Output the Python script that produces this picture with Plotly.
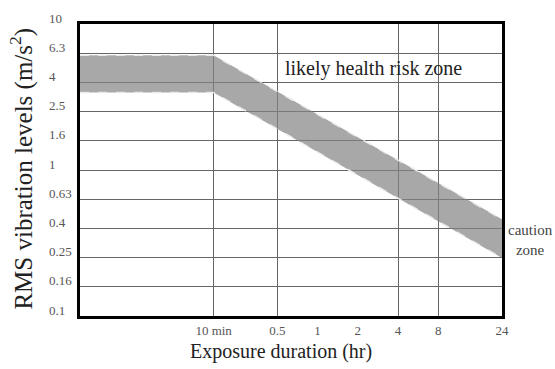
import plotly.graph_objects as go
import math

# ---- data ----
band_hours = [1/60, 1/6, 24]          # flat from left edge to 10 min, then declining to 24 hr
band_upper = [6.1, 6.1, 0.46]         # m/s^2
band_lower = [3.4, 3.4, 0.25]         # m/s^2

x_tick_vals = [1/6, 0.5, 1, 2, 4, 8, 24]
x_tick_text = ["10 min", "0.5", "1", "2", "4", "8", "24"]
x_grid_vals = [1/6, 0.5, 4, 8]

y_tick_vals = [0.1, 0.16, 0.25, 0.4, 0.63, 1, 1.6, 2.5, 4, 6.3, 10]
y_tick_text = ["0.1", "0.16", "0.25", "0.4", "0.63", "1", "1.6", "2.5", "4", "6.3", "10"]
y_grid_vals = [0.16, 0.25, 0.4, 0.63, 1, 1.6, 2.5, 4, 6.3]

FONT = "Liberation Serif"
W, H = 555, 369
ML, MR, MT, MB = 48, 53, 11, 53
plot_left_px = 80
pw = W - ML - MR
xdom0 = (plot_left_px - ML) / pw

xr = [math.log10(band_hours[0]), math.log10(24)]
yr = [-1, 1]

fig = go.Figure()
edge = dict(color="rgba(235,235,235,0.95)", width=1.5, dash="dash")
fig.add_trace(go.Scatter(x=band_hours, y=band_lower, mode="lines", line=edge,
                         hoverinfo="skip", showlegend=False))
fig.add_trace(go.Scatter(x=band_hours, y=band_upper, mode="lines", line=edge,
                         fill="tonexty", fillcolor="rgba(131,131,131,0.7)",
                         hoverinfo="skip", showlegend=False))
# empty traces to register the overlay axes (grid / labels)
fig.add_trace(go.Scatter(x=[], y=[], xaxis="x2", yaxis="y", showlegend=False, hoverinfo="skip"))
fig.add_trace(go.Scatter(x=[], y=[], xaxis="x", yaxis="y2", showlegend=False, hoverinfo="skip"))

gridc = "#666666"
fig.update_layout(
    width=W, height=H,
    margin=dict(l=ML, r=MR, t=MT, b=MB, pad=0),
    paper_bgcolor="white", plot_bgcolor="white",
    font=dict(family=FONT, color="#222"),
    xaxis=dict(type="log", range=xr, domain=[xdom0, 1], anchor="y",
               tickvals=x_tick_vals, ticktext=x_tick_text, ticks="",
               tickfont=dict(family=FONT, size=13, color="#555"),
               showgrid=False, zeroline=False,
               showline=True, linecolor="black", linewidth=3, mirror=True),
    xaxis2=dict(type="log", range=xr, domain=[xdom0, 1], overlaying="x", anchor="y",
                tickvals=x_grid_vals, showticklabels=False, ticks="",
                showgrid=True, gridcolor=gridc, gridwidth=1,
                showline=False, zeroline=False),
    yaxis=dict(type="log", range=yr, domain=[0, 1], anchor="x",
               tickvals=y_grid_vals, showticklabels=False, ticks="",
               showgrid=True, gridcolor=gridc, gridwidth=1, zeroline=False,
               showline=True, linecolor="black", linewidth=3, mirror=True),
    yaxis2=dict(type="log", range=yr, overlaying="y", anchor="free", position=0,
                side="right", tickvals=y_tick_vals, ticktext=y_tick_text,
                ticks="", showgrid=False, showline=False, zeroline=False,
                ticklabelshift=-6,
                tickfont=dict(family=FONT, size=13, color="#555")),
)

ph = H - MT - MB
def px_x(p):
    return (p - ML) / pw
def px_y(p):
    return (H - MB - p) / ph

fig.add_annotation(text="RMS vibration levels (m/s<sup>2</sup>)", textangle=-90,
                   xref="paper", yref="paper", x=px_x(22), y=px_y(162),
                   xanchor="center", yanchor="middle", showarrow=False,
                   font=dict(family=FONT, size=25, color="#222"))
fig.add_annotation(text="Exposure duration (hr)",
                   xref="paper", yref="paper", x=px_x(281), y=px_y(353),
                   xanchor="center", yanchor="middle", showarrow=False,
                   font=dict(family=FONT, size=20, color="#222"))
fig.add_annotation(text="likely health risk zone",
                   xref="paper", yref="paper", x=px_x(373), y=px_y(57),
                   xanchor="center", yanchor="middle", showarrow=False,
                   font=dict(family=FONT, size=20, color="#222"))
fig.add_annotation(text="caution<br>zone",
                   xref="paper", yref="paper", x=px_x(530), y=px_y(237),
                   xanchor="center", yanchor="middle", showarrow=False,
                   font=dict(family=FONT, size=15, color="#444"))

fig.write_html("out.html")
